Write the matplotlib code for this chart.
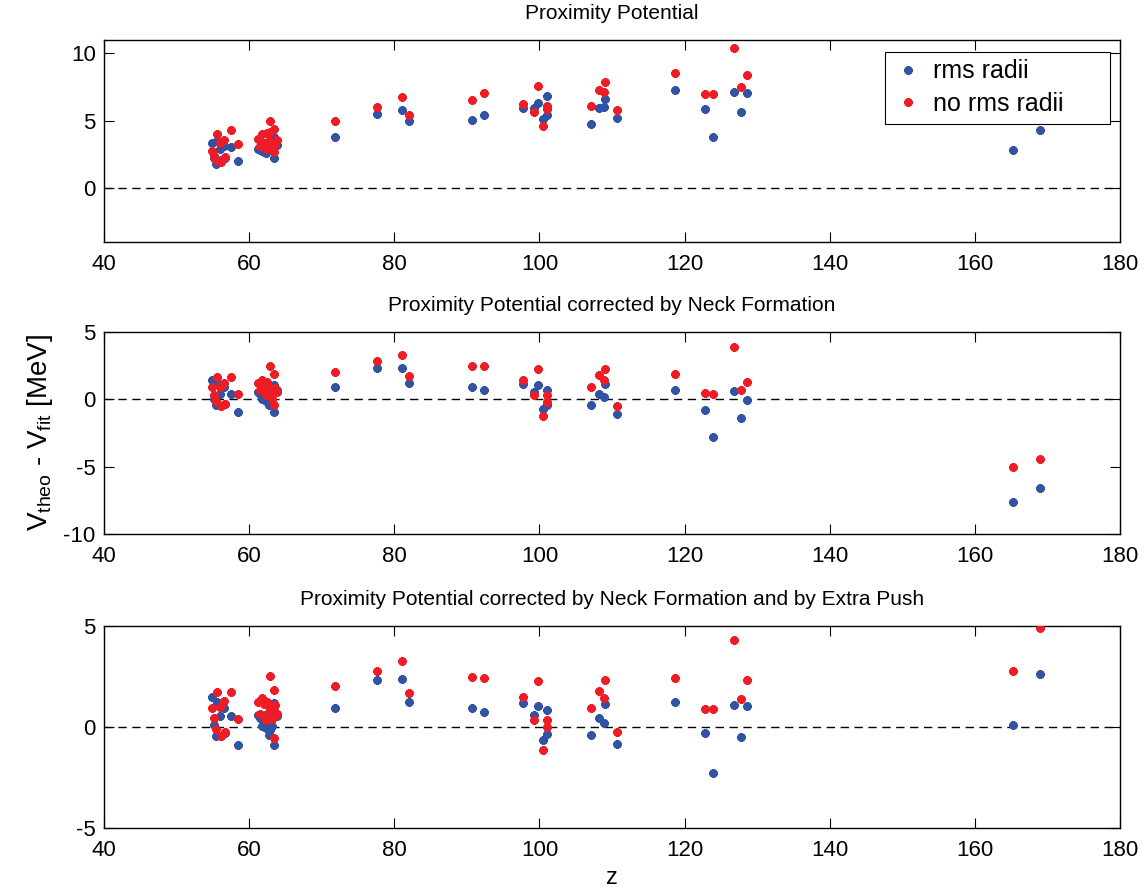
import numpy as np
import matplotlib
matplotlib.use('Agg')
import matplotlib.pyplot as plt

plt.rcParams['font.family'] = ['Liberation Sans', 'DejaVu Sans']
plt.rcParams['mathtext.fontset'] = 'custom'
plt.rcParams['mathtext.rm'] = 'Liberation Sans'
plt.rcParams['axes.unicode_minus'] = False

# =============================================================================
# DATA
# =============================================================================

z = [54.9, 55.1, 55.4, 55.6, 56.0, 56.1, 56.5, 56.7, 57.45, 58.4,
     61.2, 61.5, 61.8, 62.1, 62.35, 62.42, 62.7, 62.85, 62.9, 63.15, 63.45, 63.45, 63.5, 63.8,
     71.8, 77.6, 81.0, 82.0, 90.75, 92.3, 97.8, 99.3, 99.75, 100.5, 101.0, 101.1,
     107.1, 108.2, 108.9, 109.1, 110.7, 118.7, 122.85, 123.9, 126.8, 127.8, 128.6,
     165.3, 169.0]

# Proximity potential
prox_rms = [3.33, 2.21, 1.77, 3.51, 2.89, 2.11, 3.13, 2.25, 3.08, 2.01,
            2.89, 2.8, 2.76, 2.7, 2.64, 3.1, 2.94, 3.38, 2.9, 3.01, 3.76, 2.26, 3.2, 3.18,
            3.8, 5.5, 5.77, 4.95, 5.05, 5.45, 5.92, 5.97, 6.34, 5.12, 5.45, 6.82,
            4.78, 5.92, 6.0, 6.64, 5.2, 7.31, 5.84, 3.8, 7.16, 5.62, 7.07,
            2.85, 4.3]
prox_norms = [2.76, 2.39, 2.06, 4.05, 3.38, 1.94, 3.56, 2.31, 4.30, 3.26,
              3.63, 3.15, 4.0, 3.38, 2.89, 4.08, 3.51, 4.95, 4.18, 3.13, 4.38, 2.71, 3.26, 3.56,
              4.95, 6.0, 6.74, 5.45, 6.57, 7.07, 6.27, 5.67, 7.56, 4.63, 6.09, 5.9,
              6.09, 7.31, 7.16, 7.86, 5.77, 8.53, 6.99, 6.99, 10.4, 7.49, 8.38,
              5.45, 6.5]

# Proximity potential + neck formation
neck_rms = [1.45, 0.0, -0.45, 1.18, 0.43, -0.5, 0.93, -0.38, 0.43, -0.95,
            0.55, 0.4, 0.05, 0.1, -0.15, 0.6, -0.45, 0.9, -0.25, 0.0, 1.1, -0.95, 0.7, 0.68,
            0.95, 2.35, 2.35, 1.2, 0.95, 0.7, 1.12, 0.55, 1.05, -0.75, -0.4, 0.7,
            -0.45, 0.4, 0.15, 1.17, -1.1, 0.7, -0.78, -2.76, 0.62, -1.35, -0.05,
            -7.6, -6.6]
neck_norms = [0.93, 0.35, -0.15, 1.68, 0.93, -0.5, 1.25, -0.33, 1.68, 0.38,
              1.23, 0.68, 1.43, 1.0, 0.3, 1.3, 0.5, 2.5, 0.8, 0.05, 1.85, -0.45, 0.85, 0.55,
              2.0, 2.83, 3.3, 1.7, 2.5, 2.45, 1.45, 0.35, 2.25, -1.27, 0.3, -0.22,
              0.95, 1.8, 1.4, 2.27, -0.5, 1.87, 0.47, 0.38, 3.9, 0.68, 1.3,
              -5.0, -4.4]

# Proximity potential + neck formation + extra push
push_rms = [1.50, 0.1, -0.45, 1.24, 0.53, -0.45, 0.96, -0.3, 0.53, -0.89,
            0.59, 0.45, 0.05, 0.12, -0.03, 0.65, -0.4, 0.95, -0.15, 0.05, 1.17, -0.89, 0.75, 0.56,
            0.96, 2.31, 2.36, 1.24, 0.96, 0.74, 1.19, 0.59, 1.02, -0.64, -0.33, 0.86,
            -0.40, 0.43, 0.21, 1.12, -0.83, 1.24, -0.32, -2.26, 1.07, -0.48, 1.02,
            0.1, 2.6]
push_norms = [0.96, 0.43, -0.1, 1.72, 1.0, -0.45, 1.3, -0.23, 1.72, 0.38,
              1.22, 0.63, 1.45, 1.12, 0.35, 1.25, 0.59, 2.54, 0.89, 0.38, 1.83, -0.56, 1.09, 0.64,
              2.03, 2.79, 3.28, 1.70, 2.48, 2.41, 1.50, 0.33, 2.29, -1.14, 0.36, -0.02,
              0.96, 1.78, 1.44, 2.31, -0.23, 2.43, 0.87, 0.87, 4.32, 1.40, 2.33,
              2.75, 4.9]

TITLES = ['Proximity Potential',
          'Proximity Potential corrected by Neck Formation',
          'Proximity Potential corrected by Neck Formation and by Extra Push']
YLIMS = [(-4, 11), (-10, 5), (-5, 5)]
YTICKS = [[0, 5, 10], [-10, -5, 0, 5], [-5, 0, 5]]
XTICKS = [40, 60, 80, 100, 120, 140, 160, 180]

BLUE = '#3053A4'
RED = '#EE1C25'
TICK_FS = 16
TITLE_FS = 15
LEGEND_FS = 18
YLABEL_FS = 20
XLABEL_FS = 17

# axes boxes in pixels: (top, bottom)
W, H = 1148, 893
LEFT, RIGHT = 104, 1120
ROWS = [(40, 242), (332, 534), (626, 828)]


def draw_panel(ax, y_rms, y_norms, title, ylim, yticks):
    ax.axhline(0, color='black', linestyle=(0, (6, 4)), linewidth=1.0, zorder=1)
    ax.plot(z, y_rms, linestyle='none', marker=(8, 2, 0), markersize=6,
            markeredgewidth=2.0, color=BLUE, label='rms radii', zorder=2)
    ax.plot(z, y_norms, linestyle='none', marker=(8, 2, 0), markersize=6,
            markeredgewidth=2.0, color=RED, label='no rms radii', zorder=3)
    ax.set_xlim(40, 180)
    ax.set_ylim(*ylim)
    ax.set_xticks(XTICKS)
    ax.set_yticks(yticks)
    ax.tick_params(direction='in', length=7, width=0.8, top=True, right=True,
                   labelsize=TICK_FS)
    ax.tick_params(axis='x', pad=9)
    ax.tick_params(axis='y', pad=6)
    ax.set_title(title, fontsize=TITLE_FS, pad=15)
    for sp in ax.spines.values():
        sp.set_linewidth(1.0)


def main():
    fig = plt.figure(figsize=(W / 100, H / 100), dpi=100)
    data = [(prox_rms, prox_norms), (neck_rms, neck_norms), (push_rms, push_norms)]
    axes = []
    for (top, bottom), (yr, yn), title, ylim, yt in zip(ROWS, data, TITLES, YLIMS, YTICKS):
        ax = fig.add_axes([LEFT / W, 1 - bottom / H, (RIGHT - LEFT) / W, (bottom - top) / H])
        draw_panel(ax, yr, yn, title, ylim, yt)
        axes.append(ax)

    # legend box stretched to a fixed width in the top right corner
    leg = axes[0].legend(loc='upper left', mode='expand', fontsize=LEGEND_FS,
                         frameon=True, fancybox=False, edgecolor='black', framealpha=1,
                         borderpad=0.3, borderaxespad=0, handletextpad=0.4,
                         handlelength=1.2, labelspacing=0.35,
                         bbox_to_anchor=(0.769, 0.594, 0.2215, 0.3466))
    leg.get_frame().set_linewidth(0.8)
    leg.set_zorder(10)

    axes[1].set_ylabel(r'V$_{\mathrm{theo}}$ - V$_{\mathrm{fit}}$ [MeV]', fontsize=YLABEL_FS,
                       labelpad=6)
    axes[2].set_xlabel('z', fontsize=XLABEL_FS, labelpad=4)

    fig.savefig('out.png', dpi=100)


if __name__ == '__main__':
    main()
